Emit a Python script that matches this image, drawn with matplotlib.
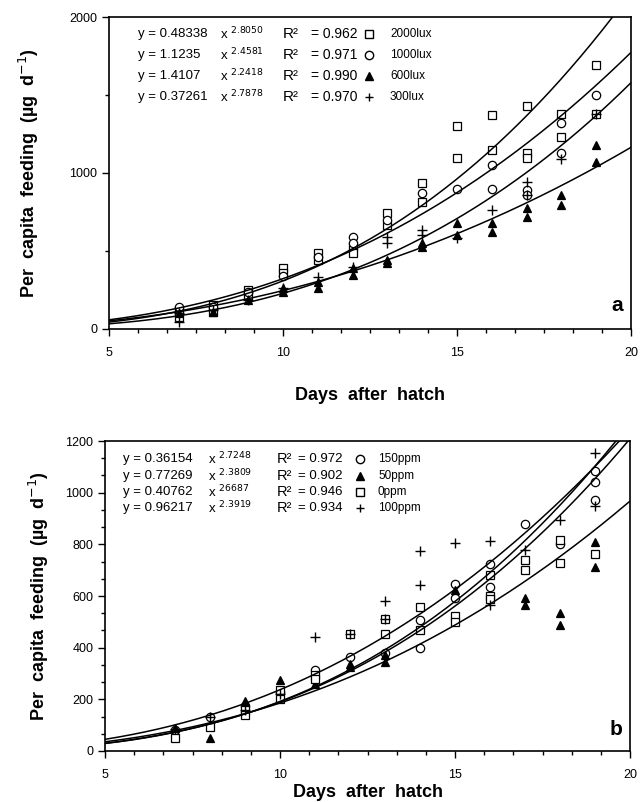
import numpy as np
import matplotlib
matplotlib.use("Agg")
import matplotlib.pyplot as plt
from matplotlib.ticker import MultipleLocator

plt.rcParams['font.family'] = ['Liberation Sans', 'DejaVu Sans']

# ---- panel a : light intensity ----
a_labels = ['2000lux', '1000lux', '600lux', '300lux']
a_coef = [0.48338, 1.1235, 1.4107, 0.37261]
a_expo = [2.8050, 2.4581, 2.2418, 2.7878]
a_r2 = ['0.962', '0.971', '0.990', '0.970']
a_coef_txt = ['0.48338', '1.1235', '1.4107', '0.37261']
a_expo_txt = ['2.8050', '2.4581', '2.2418', '2.7878']

a_2000_x = [7, 7, 8, 8, 9, 9, 10, 10, 11, 11, 12, 12, 13, 13, 14, 14, 15, 15, 16, 16, 17, 17, 17, 18, 18, 19, 19]
a_2000_y = [122, 79, 154, 111, 250, 218, 389, 357, 485, 442, 528, 485, 742, 667, 938, 816, 1301, 1094, 1372, 1147, 1429, 1126, 1094, 1378, 1229, 1690, 1378]
a_1000_x = [7, 8, 9, 10, 11, 12, 12, 13, 14, 15, 16, 16, 17, 17, 18, 18, 19]
a_1000_y = [143, 140, 237, 340, 460, 592, 549, 699, 874, 895, 1051, 895, 891, 859, 1322, 1126, 1500]
a_600_x = [7, 8, 9, 10, 10, 11, 11, 12, 12, 13, 13, 14, 14, 15, 15, 16, 16, 17, 17, 18, 18, 19, 19]
a_600_y = [100, 110, 186, 239, 260, 303, 261, 389, 346, 442, 421, 549, 528, 677, 603, 677, 624, 774, 720, 859, 795, 1179, 1072]
a_300_x = [7, 7, 8, 9, 10, 11, 12, 13, 13, 14, 14, 15, 16, 17, 17, 18, 19]
a_300_y = [47, 100, 120, 186, 260, 335, 400, 592, 549, 635, 603, 581, 763, 944, 860, 1088, 1375]

# ---- panel b : ammonia ----
b_labels = ['150ppm', '50ppm', '0ppm', '100ppm']
b_coef = [0.36154, 0.77269, 0.40762, 0.96217]
b_expo = [2.7248, 2.3809, 2.6687, 2.3919]
b_r2 = ['0.972', '0.902', '0.946', '0.934']
b_coef_txt = ['0.36154', '0.77269', '0.40762', '0.96217']
b_expo_txt = ['2.7248', '2.3809', '2 6687', '2.3919']

b_150_x = [7, 8, 9, 10, 11, 12, 13, 14, 14, 15, 15, 16, 16, 17, 18, 19, 19, 19]
b_150_y = [80, 130, 175, 230, 312, 365, 380, 508, 400, 645, 594, 723, 635, 880, 803, 1085, 1040, 970]
b_50_x = [7, 8, 9, 10, 11, 12, 12, 13, 13, 15, 17, 17, 18, 18, 19, 19]
b_50_y = [90, 52, 194, 274, 261, 338, 325, 370, 344, 625, 594, 564, 534, 486, 809, 712]
b_0_x = [7, 8, 9, 9, 10, 10, 11, 11, 12, 13, 13, 14, 14, 15, 15, 16, 16, 16, 17, 17, 18, 18, 19]
b_0_y = [52, 93, 158, 138, 235, 203, 293, 280, 452, 510, 454, 557, 467, 523, 499, 680, 599, 590, 738, 699, 815, 728, 764]
b_100_x = [7, 8, 9, 10, 11, 12, 13, 13, 14, 14, 15, 16, 16, 17, 18, 19, 19]
b_100_y = [87, 132, 160, 220, 441, 452, 579, 510, 774, 644, 805, 812, 564, 779, 893, 1152, 950]

mk = dict(mec='black', lw=0, ms=6, mew=0.9)

fig = plt.figure(figsize=(6.42, 8.02), dpi=100)
ax1 = fig.add_axes([0.1698, 0.5898, 0.8130, 0.3890])
ax2 = fig.add_axes([0.1636, 0.0636, 0.8177, 0.3865])

xs = np.linspace(5, 20, 200)

ax1.plot(a_2000_x, a_2000_y, 's', mfc='white', **mk)
ax1.plot(a_1000_x, a_1000_y, 'o', mfc='white', **mk)
ax1.plot(a_600_x, a_600_y, '^', mfc='black', **mk)
ax1.plot(a_300_x, a_300_y, '+', color='black', ms=7, mew=1.0, lw=0)
for c, e in zip(a_coef, a_expo):
    ax1.plot(xs, c * xs ** e, color='black', lw=1.1)

ax2.plot(b_150_x, b_150_y, 'o', mfc='white', **mk)
ax2.plot(b_50_x, b_50_y, '^', mfc='black', **mk)
ax2.plot(b_0_x, b_0_y, 's', mfc='white', **mk)
ax2.plot(b_100_x, b_100_y, '+', color='black', ms=7, mew=1.0, lw=0)
for c, e in zip(b_coef, b_expo):
    ax2.plot(xs, c * xs ** e, color='black', lw=1.1)

ax1.set_xlim(5, 20)
ax1.set_ylim(0, 2000)
ax1.set_xticks([5, 10, 15, 20])
ax1.set_yticks([0, 1000, 2000])
ax1.xaxis.set_minor_locator(MultipleLocator(5 / 6))
ax1.yaxis.set_minor_locator(MultipleLocator(500))

ax2.set_xlim(5, 20)
ax2.set_ylim(0, 1200)
ax2.set_xticks([5, 10, 15, 20])
ax2.set_yticks(range(0, 1201, 200))
ax2.xaxis.set_minor_locator(MultipleLocator(5 / 6))
ax2.yaxis.set_minor_locator(MultipleLocator(200 / 3))

for ax in (ax1, ax2):
    ax.tick_params(which='major', direction='out', length=5, width=1, labelsize=9, colors='black')
    ax.tick_params(which='minor', direction='out', length=3, width=1)
    ax.tick_params(axis='x', pad=8)
    for s in ax.spines.values():
        s.set_linewidth(1.2)

lab = dict(fontsize=13, fontweight='bold')
ax1.set_ylabel('Per  capita  feeding  (µg  d$^{-1}$)', labelpad=20, **lab)
ax2.set_ylabel('Per  capita  feeding  (µg  d$^{-1}$)', labelpad=10, **lab)
ax1.set_xlabel('Days  after  hatch', labelpad=20, **lab)
ax2.set_xlabel('Days  after  hatch', labelpad=2, **lab)

ax1.text(0.985, 0.045, 'a', transform=ax1.transAxes, ha='right', va='bottom', fontsize=15, fontweight='bold')
ax2.text(0.985, 0.04, 'b', transform=ax2.transAxes, ha='right', va='bottom', fontsize=15, fontweight='bold')

# equation block, panel a
a_marks = [('s', 'white'), ('o', 'white'), ('^', 'black'), ('+', 'black')]
rows_a = [34, 55, 76, 97]
for i in range(4):
    yy = 1 - rows_a[i] / 802
    fig.text(138 / 642, yy, 'y = ' + a_coef_txt[i], fontsize=9.5, va='center')
    fig.text(220 / 642, yy, 'x $^{' + a_expo_txt[i] + '}$', fontsize=9.5, va='center')
    fig.text(283 / 642, yy, 'R²', fontsize=11, va='center')
    fig.text(311 / 642, yy, '= ' + a_r2[i], fontsize=10, va='center')
    fig.text(390 / 642, yy, a_labels[i], fontsize=8.5, va='center')
    m, f = a_marks[i]
    fig.lines.append(plt.Line2D([369 / 642], [yy], marker=m, mfc=f, mec='black', color='black',
                                ms=6, mew=1.0, transform=fig.transFigure))

b_marks = [('o', 'white'), ('^', 'black'), ('s', 'white'), ('+', 'black')]
rows_b = [459, 476, 492, 508]
for i in range(4):
    yy = 1 - rows_b[i] / 802
    fig.text(123 / 642, yy, 'y = ' + b_coef_txt[i], fontsize=9.5, va='center')
    fig.text(208 / 642, yy, 'x $^{' + b_expo_txt[i] + '}$', fontsize=9.5, va='center')
    fig.text(277 / 642, yy, 'R²', fontsize=10.5, va='center')
    fig.text(298 / 642, yy, '= ' + b_r2[i], fontsize=9.5, va='center')
    fig.text(378 / 642, yy, b_labels[i], fontsize=8.5, va='center')
    m, f = b_marks[i]
    fig.lines.append(plt.Line2D([360 / 642], [yy], marker=m, mfc=f, mec='black', color='black',
                                ms=6, mew=1.0, transform=fig.transFigure))

fig.savefig('out.png', dpi=100)
